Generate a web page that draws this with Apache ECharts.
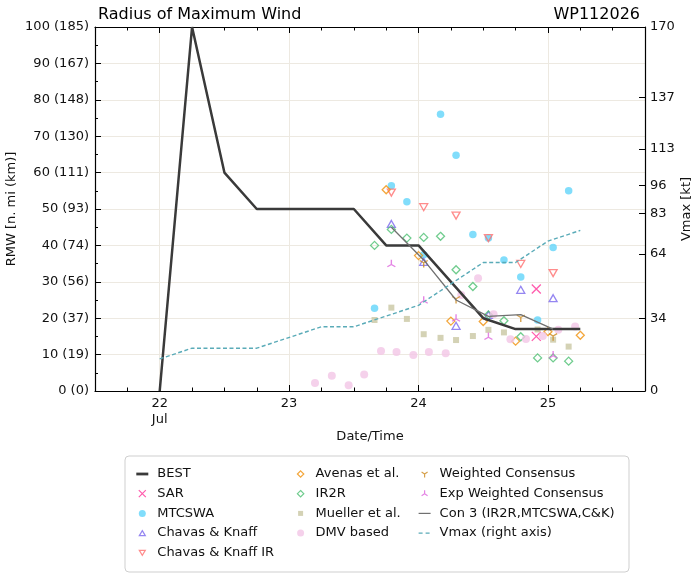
<!DOCTYPE html>
<html lang="en" style="height: 100%">

<head>
  <meta charset="utf-8">
</head>

<body style="height: 100%; margin: 0">
  <div id="container" style="width: 700px; height: 579px"></div>

  <script type="text/javascript" src="https://fastly.jsdelivr.net/npm/echarts@6.0.0/dist/echarts.min.js"></script>

  <script type="text/javascript">
    // time axis in days of July (22.25 = 22 Jul 06Z)
    const dayTicks = [22, 23, 24, 25];
    const quarterTicks = [21.75, 22, 22.25, 22.5, 22.75, 23, 23.25, 23.5, 23.75, 24, 24.25, 24.5, 24.75, 25, 25.25, 25.5];
    const rmwTickLabels = ['0 (0)', '10 (19)', '20 (37)', '30 (56)', '40 (74)', '50 (93)',
      '60 (111)', '70 (130)', '80 (148)', '90 (167)', '100 (185)'];
    const vmaxTicks = [0, 34, 64, 83, 96, 113, 137, 170];

    // [day, RMW n mi]
    const best = [[22.0, 0], [22.25, 100], [22.5, 60], [22.75, 50], [23.5, 50], [23.75, 40],
      [24.0, 40], [24.5, 20], [24.75, 17], [25.25, 17]];
    const sar = [[24.91, 28], [24.91, 15]];
    const mtcswa = [[23.66, 22.7], [23.79, 56.4], [23.91, 52.0], [24.04, 37.4], [24.17, 76.0],
      [24.29, 64.8], [24.42, 43.0], [24.54, 42.0], [24.66, 36.0], [24.79, 31.3], [24.92, 19.5],
      [25.04, 39.4], [25.16, 55.0]];
    const chavasKnaff = [[23.79, 45.9], [24.04, 35.5], [24.29, 17.9], [24.54, 20.9], [24.79, 27.8], [25.04, 25.5]];
    const chavasKnaffIR = [[23.79, 54.5], [24.04, 50.5], [24.29, 48.2], [24.54, 42.0], [24.79, 34.9], [25.04, 32.4]];
    const avenas = [[23.75, 55.3], [24.0, 37.2], [24.25, 19.2], [24.5, 19.1], [24.75, 13.7], [25.0, 16.3], [25.25, 15.3]];
    const ir2r = [[23.66, 40.0], [23.79, 44.4], [23.91, 42.0], [24.04, 42.2], [24.17, 42.5], [24.29, 33.3],
      [24.42, 28.7], [24.54, 20.9], [24.66, 19.3], [24.79, 14.9], [24.92, 9.1], [25.04, 9.1], [25.16, 8.2]];
    const mueller = [[23.66, 19.5], [23.79, 22.9], [23.91, 19.8], [24.04, 15.6], [24.17, 14.6], [24.29, 14.0],
      [24.42, 15.1], [24.54, 16.8], [24.66, 16.1], [24.92, 16.9], [25.04, 14.1], [25.16, 12.2]];
    const dmv = [[23.20, 2.2], [23.33, 4.2], [23.46, 1.6], [23.58, 4.5], [23.71, 11.0], [23.83, 10.7],
      [23.96, 9.9], [24.08, 10.7], [24.21, 10.4], [24.33, 26.4], [24.46, 31.0], [24.58, 21.1],
      [24.71, 14.2], [24.83, 14.3], [24.96, 15.1], [25.08, 16.8], [25.21, 17.7]];
    const weighted = [[24.04, 34.9], [24.29, 25.0], [24.79, 19.9], [25.04, 14.8]];
    const expWeighted = [[23.79, 35.1], [24.04, 25.1], [24.29, 20.1], [24.54, 15.1], [25.04, 10.0]];
    const con3 = [[23.79, 45], [24.04, 36], [24.29, 25], [24.54, 20.5], [24.79, 21], [25.04, 17]];
    // [day, Vmax kt]
    const vmax = [[22.0, 15], [22.25, 20], [22.75, 20], [23.25, 30], [23.5, 30], [23.75, 35], [24.0, 40],
      [24.25, 50], [24.5, 60], [24.75, 60], [25.0, 70], [25.25, 75]];

    const C = {
      best: '#3a3a3a', sar: '#ff3399', mtcswa: '#62d4fa', ck: '#7b68ee', ckir: '#ff6f6f',
      avenas: '#f0900a', ir2r: '#4cbf72', mueller: '#c9c7a2', dmv: '#f2c6e6',
      weighted: '#cc8a1f', exp: '#dd66dd', con3: '#707070', vmax: '#5aabb8'
    };
    const clear = 'rgba(0,0,0,0)';
    const font = 'DejaVu Sans';

    var dom = document.getElementById('container');
    var myChart = echarts.init(dom, null, { renderer: 'canvas' });

    function scatter(name, data, symbol, size, color, hollow) {
      return {
        name: name, type: 'scatter', data: data, symbol: symbol, symbolSize: size, silent: true,
        itemStyle: hollow
          ? { color: clear, borderColor: color, borderWidth: 1.3 }
          : { color: color }
      };
    }

    // legend icons are drawn in an 18x12 box, marker centred at (8,6)
    const box = 'path://M0,0 M18,12 ';
    function leg(name, path, color, stroke) {
      return {
        name: name, icon: box + path,
        itemStyle: stroke
          ? { color: clear, borderColor: color, borderWidth: 1.2 }
          : { color: color, borderWidth: 0 }
      };
    }
    const circle = 'M4.5,6 A3.5,3.5 0 1,0 11.5,6 A3.5,3.5 0 1,0 4.5,6 Z';

    function legend(left, items) {
      return {
        left: left, top: 467, orient: 'vertical', padding: 0, itemGap: 5.7,
        itemWidth: 18, itemHeight: 12, itemStyle: { borderWidth: 0 }, selectedMode: false,
        symbolKeepAspect: true,
        textStyle: { fontFamily: font, fontSize: 13, color: '#111', lineHeight: 14, padding: [0, 0, 0, 0] },
        data: items
      };
    }

    const xCommon = { type: 'value', min: 21.5, max: 25.75, axisLabel: { show: false }, splitLine: { show: false } };

    var option = {
      animation: false,
      textStyle: { fontFamily: font },
      title: [
        { text: 'Radius of Maximum Wind', left: 93, top: 2, textStyle: { fontFamily: font, fontSize: 16, fontWeight: 'normal', color: '#000' } },
        { text: 'WP112026', right: 55, top: 2, textStyle: { fontFamily: font, fontSize: 16, fontWeight: 'normal', color: '#000' } }
      ],
      grid: { left: 95, right: 55, top: 27, bottom: 188, containLabel: false, outerBoundsMode: 'none' },
      graphic: [{
        type: 'rect', shape: { x: 125, y: 456, width: 504, height: 116, r: 4 },
        style: { fill: '#fff', stroke: '#cfcfcf', lineWidth: 1 }, z: -10
      }],
      legend: [
        legend(133.7, [
          leg('BEST', 'M2,4.6 L14,4.6 L14,7.4 L2,7.4 Z', C.best),
          leg('SAR', 'M4.5,2.5 L11.5,9.5 M11.5,2.5 L4.5,9.5', C.sar, true),
          leg('MTCSWA', circle, C.mtcswa),
          leg('Chavas & Knaff', 'M8,3.5 L11,8.5 L5,8.5 Z', C.ck, true),
          leg('Chavas & Knaff IR', 'M5,3.5 L11,3.5 L8,8.5 Z', C.ckir, true)
        ]),
        legend(292, [
          leg('Avenas et al.', 'M8,2.8 L11.2,6 L8,9.2 L4.8,6 Z', C.avenas, true),
          leg('IR2R', 'M8,2.8 L11.2,6 L8,9.2 L4.8,6 Z', C.ir2r, true),
          leg('Mueller et al.', 'M5.5,3.5 L10.5,3.5 L10.5,8.5 L5.5,8.5 Z', C.mueller),
          leg('DMV based', circle, C.dmv)
        ]),
        legend(416, [
          leg('Weighted Consensus', 'M8,6 L8,9.5 M8,6 L5,4 M8,6 L11,4', C.weighted, true),
          leg('Exp Weighted Consensus', 'M8,6 L8,2.5 M8,6 L5,8 M8,6 L11,8', C.exp, true),
          leg('Con 3 (IR2R,MTCSWA,C&K)', 'M2,5.4 L14,5.4 L14,6.6 L2,6.6 Z', C.con3),
          leg('Vmax (right axis)', 'M2,5.4 L6,5.4 L6,6.6 L2,6.6 Z M9,5.4 L13,5.4 L13,6.6 L9,6.6 Z', C.vmax)
        ])
      ],
      xAxis: [
        {
          type: 'value', position: 'bottom', min: 21.5, max: 25.75,
          axisLine: { show: true, lineStyle: { color: '#000', width: 1.2 } },
          axisTick: { show: true, inside: true, length: 6, customValues: dayTicks, lineStyle: { color: '#000' } },
          axisLabel: {
            customValues: dayTicks, color: '#111', fontSize: 13, margin: 5, lineHeight: 16,
            formatter: function (v) { return v === 22 ? '22\nJul' : String(v); }
          },
          splitLine: { show: true, lineStyle: { color: '#ede9e1', width: 1 } },
          name: 'Date/Time', nameLocation: 'middle', nameGap: 39, nameMoveOverlap: false,
          nameTextStyle: { fontSize: 13, color: '#111' }
        },
        Object.assign({}, xCommon, {
          position: 'bottom', axisLine: { show: false },
          axisTick: { show: true, inside: true, length: 3.5, customValues: quarterTicks, lineStyle: { color: '#000' } }
        }),
        Object.assign({}, xCommon, {
          position: 'top', axisLine: { show: true, lineStyle: { color: '#000', width: 1.2 } },
          axisTick: { show: true, inside: true, length: 6, customValues: dayTicks, lineStyle: { color: '#000' } }
        }),
        Object.assign({}, xCommon, {
          position: 'top', axisLine: { show: false },
          axisTick: { show: true, inside: true, length: 3.5, customValues: quarterTicks, lineStyle: { color: '#000' } }
        })
      ],
      yAxis: [
        {
          type: 'value', position: 'left', min: 0, max: 100, interval: 10,
          axisLine: { show: true, lineStyle: { color: '#000', width: 1.2 } },
          axisTick: { show: true, inside: true, length: 6, lineStyle: { color: '#000' } },
          minorTick: { show: true, splitNumber: 2, length: 3, lineStyle: { color: '#000' } },
          axisLabel: {
            color: '#111', fontSize: 13, margin: 6,
            formatter: function (v) { return rmwTickLabels[Math.round(v / 10)]; }
          },
          splitLine: { show: true, lineStyle: { color: '#ede9e1', width: 1 } },
          name: 'RMW [n. mi (km)]', nameLocation: 'middle', nameGap: 77, nameRotate: 90, nameMoveOverlap: false,
          nameTextStyle: { fontSize: 13, color: '#111' }
        },
        {
          type: 'value', position: 'right', min: 0, max: 170,
          axisLine: { show: true, lineStyle: { color: '#000', width: 1.2 } },
          axisTick: { show: true, inside: true, length: 6, customValues: vmaxTicks, lineStyle: { color: '#000' } },
          axisLabel: { customValues: vmaxTicks, color: '#111', fontSize: 13, margin: 5 },
          splitLine: { show: false },
          name: 'Vmax [kt]', nameLocation: 'middle', nameGap: 35, nameRotate: 90, nameMoveOverlap: false,
          nameTextStyle: { fontSize: 13, color: '#111' }
        }
      ],
      series: [
        {
          name: 'BEST', type: 'line', data: best, showSymbol: false, silent: true,
          lineStyle: { color: C.best, width: 2.5 }, itemStyle: { color: C.best }
        },
        scatter('SAR', sar, 'path://M0,0 L10,10 M10,0 L0,10', 9, C.sar, true),
        scatter('MTCSWA', mtcswa, 'circle', 7.5, C.mtcswa, false),
        scatter('Chavas & Knaff', chavasKnaff, 'triangle', [8, 7], C.ck, true),
        scatter('Chavas & Knaff IR', chavasKnaffIR, 'path://M0,0 L10,0 L5,8.66 Z', [8, 7], C.ckir, true),
        scatter('Avenas et al.', avenas, 'path://M5,0 L10,5 L5,10 L0,5 Z', 8, C.avenas, true),
        scatter('IR2R', ir2r, 'path://M5,0 L10,5 L5,10 L0,5 Z', 8, C.ir2r, true),
        scatter('Mueller et al.', mueller, 'rect', 6, C.mueller, false),
        scatter('DMV based', dmv, 'circle', 8, C.dmv, false),
        scatter('Weighted Consensus', weighted, 'path://M5,5 L5,10 M5,5 L0.67,2.5 M5,5 L9.33,2.5', [8, 7], C.weighted, true),
        scatter('Exp Weighted Consensus', expWeighted, 'path://M5,5 L5,0 M5,5 L0.67,7.5 M5,5 L9.33,7.5', [8, 7], C.exp, true),
        {
          name: 'Con 3 (IR2R,MTCSWA,C&K)', type: 'line', data: con3, showSymbol: false, silent: true,
          lineStyle: { color: C.con3, width: 1.3 }, itemStyle: { color: C.con3 }
        },
        {
          name: 'Vmax (right axis)', type: 'line', yAxisIndex: 1, data: vmax, showSymbol: false, silent: true,
          lineStyle: { color: C.vmax, width: 1.4, type: [4, 2.5] }, itemStyle: { color: C.vmax }
        }
      ]
    };

    if (option && typeof option === 'object') {
      myChart.setOption(option);
    }

    window.addEventListener('resize', myChart.resize);
  </script>
</body>

</html>
